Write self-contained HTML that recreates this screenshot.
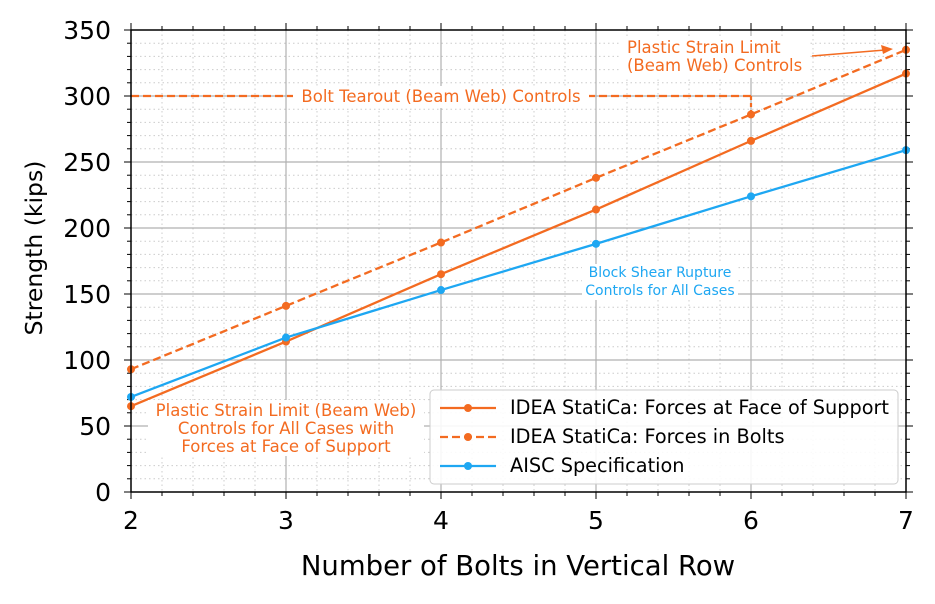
<!DOCTYPE html>
<html><head><meta charset="utf-8"><style>
body{margin:0;background:#fff}
svg{font-family:"DejaVu Sans","Liberation Sans",sans-serif}
</style></head><body>
<svg id="s" width="935" height="599" viewBox="0 0 935 599" xmlns="http://www.w3.org/2000/svg"></svg>
<script>
const X=v=>131+(v-2)*155, Y=v=>492-v*1.32;
let h='<rect width="935" height="599" fill="#fff"/>';
for(let i=0;i<=25;i++){const x=X(2+i*0.2);if(i%5)h+=`<line x1="${x}" y1="30" x2="${x}" y2="492" stroke="#ccc" stroke-width="1" stroke-dasharray="1.5,3"/>`;}
for(let v=0;v<=350;v+=10){if(v%50)h+=`<line x1="131" y1="${Y(v)}" x2="906" y2="${Y(v)}" stroke="#ccc" stroke-width="1" stroke-dasharray="1.5,3"/>`;}
for(let v=3;v<7;v++)h+=`<line x1="${X(v)}" y1="30" x2="${X(v)}" y2="492" stroke="#b0b0b0" stroke-width="1.2"/>`;
for(let v=50;v<350;v+=50)h+=`<line x1="131" y1="${Y(v)}" x2="906" y2="${Y(v)}" stroke="#b0b0b0" stroke-width="1.2"/>`;
for(let i=0;i<=25;i++){const x=X(2+i*0.2),L=i%5?4:7;h+=`<line x1="${x}" y1="492" x2="${x}" y2="${492+L}" stroke="#000"/><line x1="${x}" y1="30" x2="${x}" y2="${30-L}" stroke="#000"/>`;}
for(let v=0;v<=350;v+=10){const y=Y(v),L=v%50?4:7;h+=`<line x1="131" y1="${y}" x2="${131-L}" y2="${y}" stroke="#000"/><line x1="906" y1="${y}" x2="${906+L}" y2="${y}" stroke="#000"/>`;}
for(let v=2;v<=7;v++)h+=`<text x="${X(v)}" y="529" font-size="25" text-anchor="middle">${v}</text>`;
for(let v=0;v<=350;v+=50)h+=`<text x="111" y="${Y(v)+9}" font-size="25" text-anchor="end">${v}</text>`;
h+=`<text x="518" y="575" font-size="27.5" text-anchor="middle">Number of Bolts in Vertical Row</text>`;
h+=`<text transform="translate(42,248) rotate(-90)" font-size="23.5" text-anchor="middle">Strength (kips)</text>`;
h+=`<line x1="131" y1="${Y(300)}" x2="${X(6)}" y2="${Y(300)}" stroke="#f36b21" stroke-width="2.2" stroke-dasharray="8,4"/>`;
h+=`<line x1="${X(6)}" y1="${Y(300)}" x2="${X(6)}" y2="${Y(286)}" stroke="#f36b21" stroke-width="2.2" stroke-dasharray="4,3"/>`;
h+=`<rect x="293" y="86" width="296" height="22" fill="#fff"/><text x="441" y="102" font-size="16.5" fill="#f36b21" text-anchor="middle">Bolt Tearout (Beam Web) Controls</text>`;
const xs=[2,3,4,5,6,7];
function series(d,c,dash){let p=xs.map((x,i)=>`${X(x)},${Y(d[i])}`).join(' ');let s=`<polyline points="${p}" fill="none" stroke="${c}" stroke-width="2.3" ${dash?'stroke-dasharray="8,4"':''}/>`;xs.forEach((x,i)=>s+=`<circle cx="${X(x)}" cy="${Y(d[i])}" r="4" fill="${c}"/>`);return s;}
h+=series([65,114,165,214,266,317],'#f36b21',0);
h+=series([93,141,189,238,286,335],'#f36b21',1);
h+=series([72,117,153,188,224,259],'#1ea7f2',0);
h+=`<rect x="620" y="36" width="190" height="42" fill="#fff"/>`;
h+=`<text x="627" y="53" font-size="16.5" fill="#f36b21">Plastic Strain Limit</text><text x="627" y="71" font-size="16.5" fill="#f36b21">(Beam Web) Controls</text>`;
h+=`<line x1="812" y1="56" x2="885" y2="50" stroke="#f36b21" stroke-width="1.5"/><path d="M893,49 L881,45 L883,54 Z" fill="#f36b21"/>`;
h+=`<rect x="582" y="264" width="156" height="36" fill="#fff"/>`;
h+=`<text x="660" y="277" font-size="14" fill="#1ea7f2" text-anchor="middle">Block Shear Rupture</text><text x="660" y="295" font-size="14" fill="#1ea7f2" text-anchor="middle">Controls for All Cases</text>`;
h+=`<rect x="148" y="400" width="276" height="56" fill="#fff"/>`;
['Plastic Strain Limit (Beam Web)','Controls for All Cases with','Forces at Face of Support'].forEach((t,i)=>h+=`<text x="286" y="${416+i*18}" font-size="16.5" fill="#f36b21" text-anchor="middle">${t}</text>`);
h+=`<rect x="430" y="390" width="468" height="94" rx="4" fill="#fff" fill-opacity="0.9" stroke="#ccc"/>`;
[['IDEA StatiCa: Forces at Face of Support','#f36b21',0,408],['IDEA StatiCa: Forces in Bolts','#f36b21',1,437],['AISC Specification','#1ea7f2',0,466]].forEach(([t,c,d,y])=>{h+=`<line x1="440" y1="${y}" x2="496" y2="${y}" stroke="${c}" stroke-width="2.3" ${d?'stroke-dasharray="8,4"':''}/><circle cx="468" cy="${y}" r="4" fill="${c}"/><text x="510" y="${y+6}" font-size="19.3">${t}</text>`;});
h+=`<rect x="131" y="30" width="775" height="462" fill="none" stroke="#000" stroke-width="1.5"/>`;
document.getElementById('s').innerHTML=h;
</script>
</body></html>
